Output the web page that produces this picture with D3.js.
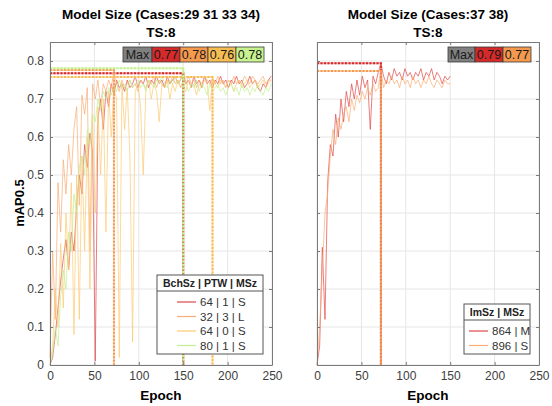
<!DOCTYPE html>
<html lang="en">
<head>
<meta charset="utf-8">
<title>Model Size mAP0.5</title>
<script src="https://cdn.jsdelivr.net/npm/d3@7"></script>
<style>
  body { margin: 0; background: #fff; }
  text { font-family: "Liberation Sans", Arial, sans-serif; }
</style>
</head>
<body>
<script>

// ---- data ----
// left panel: epochs 0..249, every 3rd epoch
var leftEpochs = d3.range(0, 250, 3);
var leftNames = ["64 | 1 | S", "32 | 3 | L", "64 | 0 | S", "80 | 1 | S"];
var red641S = [0.00,0.02,0.08,0.15,0.22,0.28,0.33,0.25,0.35,0.30,0.42,0.50,0.45,0.58,0.52,0.61,0.56,0.01,0.65,0.70,
  0.62,0.72,0.68,0.74,0.71,0.75,0.73,0.74,0.72,0.75,0.73,0.74,0.76,0.73,0.75,0.74,0.76,0.73,0.75,0.74,
  0.76,0.74,0.75,0.73,0.76,0.74,0.75,0.76,0.74,0.75,0.768,0.74,0.75,0.73,0.76,0.74,0.75,0.73,0.76,0.74,
  0.75,0.73,0.75,0.74,0.76,0.74,0.75,0.73,0.75,0.74,0.76,0.74,0.75,0.73,0.74,0.76,0.74,0.75,0.73,0.72,
  0.74,0.73,0.75,0.76];
var orange323L = [0.02,0.30,0.12,0.48,0.35,0.54,0.45,0.58,0.50,0.62,0.68,0.42,0.71,0.66,0.73,0.30,0.74,0.70,0.75,0.68,
  0.74,0.72,0.75,0.73,0.776,0.74,0.72,0.75,0.73,0.74,0.75,0.73,0.74,0.72,0.75,0.74,0.73,0.75,0.74,0.76,
  0.73,0.75,0.74,0.73,0.75,0.74,0.76,0.74,0.75,0.73,0.75,0.74,0.76,0.74,0.75,0.73,0.75,0.74,0.76,0.75,
  0.74,0.75,0.74,0.76,0.74,0.75,0.73,0.75,0.74,0.76,0.74,0.75,0.74,0.76,0.75,0.74,0.76,0.75,0.74,0.75,
  0.76,0.74,0.75,0.75];
var yellow640S = [0.00,0.05,0.20,0.10,0.32,0.15,0.40,0.25,0.48,0.08,0.50,0.12,0.55,0.30,0.60,0.20,0.65,0.40,0.68,0.50,
  0.70,0.35,0.72,0.60,0.73,0.70,0.02,0.74,0.62,0.73,0.55,0.06,0.72,0.74,0.68,0.50,0.73,0.75,0.70,0.74,
  0.72,0.64,0.74,0.73,0.75,0.70,0.74,0.72,0.75,0.73,0.74,0.72,0.75,0.73,0.74,0.71,0.74,0.73,0.75,0.74,
  0.67,0.758,0.74,0.73,0.75,0.74,0.73,0.75,0.74,0.72,0.74,0.75,0.73,0.74,0.75,0.73,0.74,0.75,0.73,0.74,
  0.75,0.73,0.74,0.75];
var green801S = [0.00,0.03,0.10,0.05,0.18,0.25,0.20,0.35,0.30,0.45,0.40,0.52,0.55,0.50,0.62,0.58,0.66,0.64,0.70,0.67,
  0.72,0.70,0.73,0.71,0.74,0.72,0.75,0.73,0.74,0.72,0.75,0.73,0.74,0.75,0.73,0.74,0.72,0.75,0.74,0.73,
  0.75,0.74,0.76,0.74,0.73,0.75,0.74,0.76,0.74,0.75,0.781,0.74,0.72,0.74,0.73,0.75,0.72,0.74,0.73,0.71,
  0.74,0.72,0.73,0.74,0.72,0.73,0.71,0.73,0.74,0.72,0.73,0.71,0.74,0.72,0.73,0.71,0.73,0.72,0.74,0.72,
  0.71,0.73,0.72,0.74];

// right panel: epochs 0..150, every 3rd epoch
var rightEpochs = d3.range(0, 151, 3);
var rightNames = ["864 | M", "896 | S"];
var red864M = [0.00,0.05,0.31,0.12,0.48,0.58,0.55,0.66,0.60,0.70,0.64,0.72,0.68,0.74,0.70,0.75,0.71,0.76,0.73,0.75,
  0.62,0.76,0.74,0.77,0.794,0.76,0.74,0.77,0.75,0.78,0.76,0.77,0.75,0.78,0.76,0.77,0.75,0.77,0.76,0.78,
  0.75,0.77,0.76,0.78,0.75,0.77,0.76,0.74,0.76,0.75,0.76];
var orange896S = [0.00,0.10,0.25,0.40,0.45,0.55,0.62,0.58,0.65,0.62,0.66,0.68,0.64,0.70,0.67,0.71,0.69,0.72,0.70,0.73,
  0.71,0.74,0.72,0.73,0.774,0.73,0.75,0.74,0.76,0.74,0.75,0.73,0.76,0.74,0.75,0.73,0.76,0.74,0.75,0.73,
  0.75,0.74,0.76,0.74,0.73,0.75,0.74,0.73,0.75,0.74,0.74];

var yTicks = [0, 0.1, 0.2, 0.3, 0.4, 0.5, 0.6, 0.7, 0.8];
var xTicks = [0, 50, 100, 150, 200, 250];

var boxColors = ["#d42a2a", "#f5994f", "#f7bd55", "#c8f290"];
var lineColors = ["#df4848", "#f9ad74", "#fcca72", "#c2f090"];

// ---- layout ----
var w = 552, h = 406;
var plotTop = 42, plotBottom = 365;

var svg = d3.select("body").append("svg")
    .attr("width", w)
    .attr("height", h);

function drawPanel(p) {
    var x = d3.scaleLinear().domain([0, 250]).range([p.x0, p.x1]);
    var y = d3.scaleLinear().domain([0, 0.85]).range([plotBottom, plotTop]);
    var g = svg.append("g");

    // grid
    g.selectAll(".gx").data(xTicks).enter().append("line")
        .attr("x1", d => x(d)).attr("x2", d => x(d))
        .attr("y1", plotTop).attr("y2", plotBottom)
        .attr("stroke", "#e6e6e6");
    g.selectAll(".gy").data(yTicks).enter().append("line")
        .attr("x1", p.x0).attr("x2", p.x1)
        .attr("y1", d => y(d)).attr("y2", d => y(d))
        .attr("stroke", "#e6e6e6");

    // series
    var line = d3.line()
        .x((d, i) => x(p.epochs[i]))
        .y(d => y(d));
    p.series.forEach(function(s, k) {
        g.append("path")
            .datum(s)
            .attr("fill", "none")
            .attr("stroke", lineColors[k])
            .attr("stroke-width", 1)
            .attr("stroke-opacity", 0.7)
            .attr("d", line);
    });

    // max markers
    p.series.forEach(function(s, k) {
        var mi = d3.maxIndex(s);
        var e = p.epochs[mi], v = s[mi];
        var path = "M" + x(0) + "," + y(v) + "H" + x(e) + "V" + y(0);
        g.append("path").attr("d", path).attr("fill", "none")
            .attr("stroke", lineColors[k]).attr("stroke-opacity", 0.5)
            .attr("stroke-width", 2);
        g.append("path").attr("d", path).attr("fill", "none")
            .attr("stroke", boxColors[k])
            .attr("stroke-width", 2)
            .attr("stroke-dasharray", "2,1.5");
    });

    // axes (box with inward ticks)
    var axB = d3.axisBottom(x).tickValues(xTicks).tickSizeInner(-3).tickSizeOuter(0).tickPadding(6);
    var axT = d3.axisTop(x).tickValues(xTicks).tickSizeInner(-3).tickSizeOuter(0).tickFormat("");
    var axL = d3.axisLeft(y).tickValues(yTicks).tickSizeInner(-3).tickSizeOuter(0).tickPadding(6)
        .tickFormat(p.yLabels ? d3.format("") : "");
    var axR = d3.axisRight(y).tickValues(yTicks).tickSizeInner(-3).tickSizeOuter(0).tickFormat("");

    [[axB, "translate(0," + plotBottom + ")"], [axT, "translate(0," + plotTop + ")"],
     [axL, "translate(" + p.x0 + ",0)"], [axR, "translate(" + p.x1 + ",0)"]].forEach(function(a) {
        var ag = g.append("g").attr("transform", a[1]).call(a[0]);
        ag.select(".domain").attr("stroke", "#7a7a7a");
        ag.selectAll(".tick line").attr("stroke", "#7a7a7a");
        ag.selectAll(".tick text").attr("fill", "#404040").attr("font-size", 12);
    });

    // titles
    var cx = (p.x0 + p.x1) / 2;
    g.append("text").attr("x", cx).attr("y", 19).attr("text-anchor", "middle")
        .attr("font-size", 13.5).attr("font-weight", "bold").text(p.title);
    g.append("text").attr("x", cx).attr("y", 37).attr("text-anchor", "middle")
        .attr("font-size", 13.5).attr("font-weight", "bold").text("TS:8");
    g.append("text").attr("x", cx).attr("y", 400).attr("text-anchor", "middle")
        .attr("font-size", 13.5).attr("font-weight", "bold").text("Epoch");

    // max box
    var cells = [{label: "Max", fill: "#808080", w: p.maxW}].concat(p.series.map(function(s, k) {
        return {label: d3.format(".2f")(d3.max(s)), fill: boxColors[k], w: 28};
    }));
    var totalW = d3.sum(cells, c => c.w);
    var bx = p.x1 - 8 - totalW;
    cells.forEach(function(c) {
        g.append("rect").attr("x", bx).attr("y", 47).attr("width", c.w).attr("height", 15)
            .attr("fill", c.fill).attr("stroke", "#3a3a3a").attr("stroke-width", 0.8);
        g.append("text").attr("x", bx + c.w / 2).attr("y", 59).attr("text-anchor", "middle")
            .attr("font-size", 12.5).attr("fill", "#1a1a1a").text(c.label);
        bx += c.w;
    });

    // legend
    var L = p.legend;
    g.append("rect").attr("x", L.x).attr("y", L.y).attr("width", L.w)
        .attr("height", 16 + p.names.length * 14.5 + 5)
        .attr("fill", "#fff").attr("stroke", "#555").attr("stroke-width", 1);
    g.append("line").attr("x1", L.x).attr("x2", L.x + L.w)
        .attr("y1", L.y + 16).attr("y2", L.y + 16).attr("stroke", "#555");
    g.append("text").attr("x", L.x + L.w / 2).attr("y", L.y + 12).attr("text-anchor", "middle")
        .attr("font-size", 10.5).attr("font-weight", "bold").attr("fill", "#222").text(L.header);
    p.names.forEach(function(n, k) {
        var ly = L.y + 27 + k * 14.5;
        g.append("line").attr("x1", L.lx).attr("x2", L.lx + 19).attr("y1", ly).attr("y2", ly)
            .attr("stroke", lineColors[k]).attr("stroke-width", 1.2);
        g.append("text").attr("x", L.lx + 23).attr("y", ly + 4).attr("font-size", 11.5)
            .attr("fill", "#333").text(n);
    });
}

drawPanel({
    x0: 50, x1: 272, epochs: leftEpochs,
    series: [red641S, orange323L, yellow640S, green801S],
    names: leftNames, title: "Model Size (Cases:29 31 33 34)",
    yLabels: true, maxW: 29,
    legend: {x: 157, y: 275, w: 106, lx: 177, header: "BchSz | PTW | MSz"}
});

drawPanel({
    x0: 317, x1: 539, epochs: rightEpochs,
    series: [red864M, orange896S],
    names: rightNames, title: "Model Size (Cases:37 38)",
    yLabels: false, maxW: 27,
    legend: {x: 464, y: 304, w: 66, lx: 469, header: "ImSz | MSz"}
});

svg.append("text")
    .attr("transform", "translate(24,203) rotate(-90)")
    .attr("text-anchor", "middle")
    .attr("font-size", 13).attr("font-weight", "bold")
    .text("mAP0.5");

</script>
</body>
</html>
